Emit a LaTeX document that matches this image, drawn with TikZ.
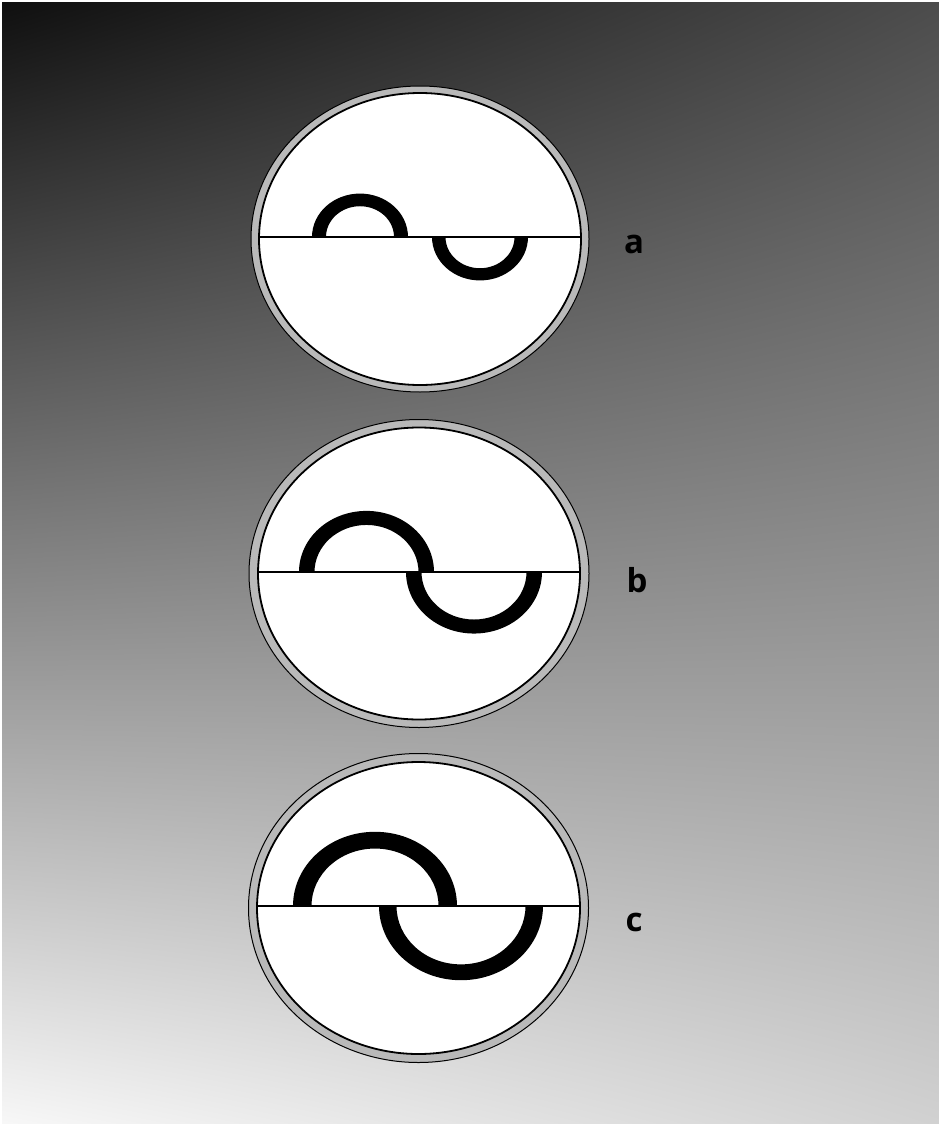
\documentclass[tikz,border=0pt]{standalone}
\usepackage{fontspec}
\setmainfont{Open Sans}
\usetikzlibrary{shadings}
\begin{document}
\begin{tikzpicture}[x=1pt,y=-1pt,
  ring/.style={fill=gray!55, draw=black, line width=1pt},
  face/.style={fill=white, draw=black, line width=1.8pt},
  split/.style={draw=black, line width=2.4pt},
  band/.style={fill=black},
  lbl/.style={font=\fontsize{33}{38}\selectfont\bfseries, anchor=base, text=black}]
\useasboundingbox (0,0) rectangle (939,1124);
\fill[white] (0,0) rectangle (939,1124);
\shade[upper left=black!94, upper right=black!70, lower left=black!3, lower right=black!18]
  (2,3) rectangle (939,1124);
% ---------- disc a ----------
\coordinate (ca) at (420,239);
\fill[ring] (ca) ellipse[x radius=169, y radius=153];
\fill[face] (ca) ellipse[x radius=161, y radius=146];
\fill[band] (312,237) arc[start angle=180, end angle=360, x radius=48, y radius=0.905*48]
  -- (394,237) arc[start angle=0, end angle=-180, x radius=34, y radius=0.905*34] -- cycle;
\fill[band] (432,237) arc[start angle=180, end angle=0, x radius=48, y radius=0.905*48]
  -- (514.5,237) arc[start angle=0, end angle=180, x radius=34.5, y radius=0.905*34.5] -- cycle;
\coordinate (la) at (259,237);
\coordinate (ra) at (581,237);
\draw[split] (la) -- (ra);
\node[lbl] (a) at (634,253) {a};
% ---------- disc b ----------
\coordinate (cb) at (419,573.5);
\fill[ring] (cb) ellipse[x radius=170, y radius=154];
\fill[face] (cb) ellipse[x radius=161, y radius=146];
\fill[band] (299,572) arc[start angle=180, end angle=360, x radius=67.5, y radius=0.905*67.5]
  -- (418.5,572) arc[start angle=0, end angle=-180, x radius=52, y radius=0.905*52] -- cycle;
\fill[band] (406,572) arc[start angle=180, end angle=0, x radius=68, y radius=0.905*68]
  -- (526.5,572) arc[start angle=0, end angle=180, x radius=52.5, y radius=0.905*52.5] -- cycle;
\coordinate (lb) at (258,572);
\coordinate (rb) at (580,572);
\draw[split] (lb) -- (rb);
\node[lbl] (b) at (637,592) {b};
% ---------- disc c ----------
\coordinate (cc) at (418.5,908);
\fill[ring] (cc) ellipse[x radius=170, y radius=154.5];
\fill[face] (cc) ellipse[x radius=161.5, y radius=146];
\fill[band] (293,906) arc[start angle=180, end angle=360, x radius=82, y radius=0.905*82]
  -- (438.5,906) arc[start angle=0, end angle=-180, x radius=63.5, y radius=0.905*63.5] -- cycle;
\fill[band] (379,906) arc[start angle=180, end angle=0, x radius=82, y radius=0.905*82]
  -- (525.5,906) arc[start angle=0, end angle=180, x radius=64.5, y radius=0.905*64.5] -- cycle;
\coordinate (lc) at (257,906);
\coordinate (rc) at (580,906);
\draw[split] (lc) -- (rc);
\node[lbl] (c) at (634,931) {c};
\end{tikzpicture}
\end{document}
